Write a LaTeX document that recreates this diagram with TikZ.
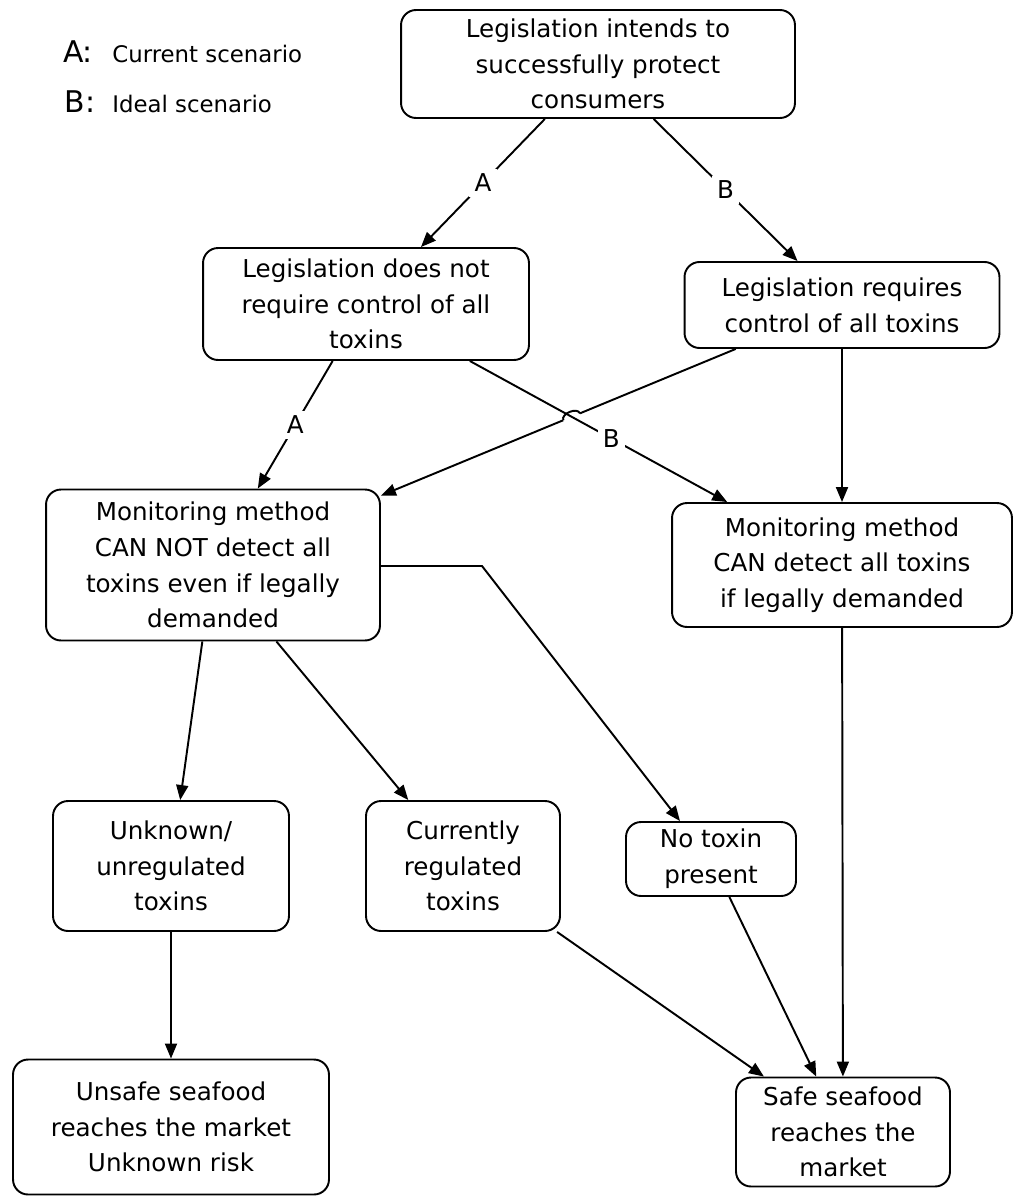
\documentclass[tikz,border=0pt]{standalone}
\usepackage{fontspec}
\setmainfont{DejaVu Sans}
\usetikzlibrary{arrows.meta,calc,intersections}
\tikzset{
  box/.style={draw, rounded corners=0.3cm, line width=1.1pt, align=center, inner sep=0pt,
    font=\fontsize{14}{20.3}\selectfont},
  link/.style={line width=1.1pt, -{Triangle[length=0.3cm,width=0.24cm]}},
  tag/.style={fill=white, inner sep=3pt, font=\fontsize{14}{16}\selectfont},
}
\begin{document}
\begin{tikzpicture}[x=0.02cm,y=-0.02cm]
  \useasboundingbox (0,0) rectangle (1024,1204);

  % legend
  \node (la) at (78,52) {\fontsize{17}{20}\selectfont A:};
  \node[anchor=west, inner sep=0pt] (lat) at (112,54) {\fontsize{13}{16}\selectfont Current scenario};
  \node (lb) at (80,102) {\fontsize{17}{20}\selectfont B:};
  \node[anchor=west, inner sep=0pt] (lbt) at (112,104) {\fontsize{13}{16}\selectfont Ideal scenario};

  % boxes
  \node[box, minimum width=7.88cm, minimum height=2.16cm] (top) at (598,64) {Legislation intends to\\successfully protect\\consumers};
  \node[box, minimum width=6.52cm, minimum height=2.24cm] (l1) at (366,304) {Legislation does not\\require control of all\\toxins};
  \node[box, minimum width=6.3cm, minimum height=1.72cm] (r1) at (842,305) {Legislation requires\\control of all toxins};
  \node[box, minimum width=6.68cm, minimum height=3.02cm] (m1) at (213,565) {Monitoring method\\CAN NOT detect all\\toxins even if legally\\demanded};
  \node[box, minimum width=6.8cm, minimum height=2.48cm] (m2) at (842,565) {Monitoring method\\CAN detect all toxins\\if legally demanded};
  \node[box, minimum width=4.72cm, minimum height=2.6cm] (unk) at (171,866) {Unknown/\\unregulated\\toxins};
  \node[box, minimum width=3.88cm, minimum height=2.6cm] (cur) at (463,866) {Currently\\regulated\\toxins};
  \node[box, minimum width=3.4cm, minimum height=1.48cm] (non) at (711,859) {No toxin\\present};
  \node[box, minimum width=6.32cm, minimum height=2.7cm] (unsafe) at (171,1127) {Unsafe seafood\\reaches the market\\Unknown risk};
  \node[box, minimum width=4.28cm, minimum height=2.18cm] (safe) at (843,1132) {Safe seafood\\reaches the\\market};

  % connectors
  \draw[link] (top) -- node[tag] {A} (l1);
  \draw[link] (top) -- node[tag] {B} (r1);
  \draw[link] (l1) -- node[tag] {A} (m1);
  \path[name path=rm] (r1) -- (m1);
  \path[name path=lm] (l1) -- (m2);
  \path[name intersections={of=rm and lm, by=x1}];
  \coordinate (j1) at ($(x1)!0.18cm!(r1)$);
  \coordinate (j2) at ($(x1)!0.18cm!(m1)$);
  \draw[link] (r1) -- (m1);
  \draw[white, line width=2.5pt] (j1) -- (j2);
  \draw[line width=1.1pt] (j1) to[bend right=90] (j2);
  \draw[link] (l1) -- node[tag, pos=0.55] {B} (m2);
  \draw[link] (r1) -- (m2);
  \coordinate (bend) at (482,566);
  \draw[link] (m1.east |- bend) -- (bend) -- (non.north -| 680,0);
  \draw[link] (m1) -- (unk);
  \draw[link] (m1) -- (cur);
  \draw[link] (m2) -- (safe);
  \draw[link] (unk) -- (unsafe);
  \draw[link] (cur) -- (safe);
  \draw[link] (non) -- (safe);
\end{tikzpicture}
\end{document}
